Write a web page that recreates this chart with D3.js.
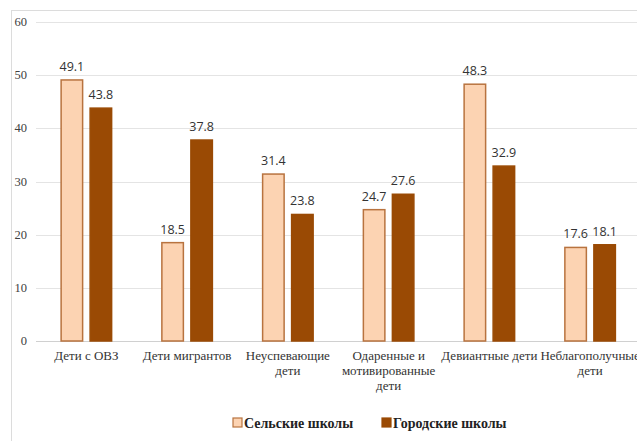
<!DOCTYPE html>
<html><head><meta charset="utf-8">
<script src="https://cdn.jsdelivr.net/npm/d3@7"></script>
<style>body{margin:0;background:#fff}svg{display:block}</style>
</head><body>
<svg id="c" width="637" height="441"></svg>
<script>
const categories = ["Дети с ОВЗ","Дети мигрантов","Неуспевающие дети","Одаренные и мотивированные дети","Девиантные дети","Неблагополучные дети"];
const categoryLines = [["Дети с ОВЗ"],["Дети мигрантов"],["Неуспевающие","дети"],["Одаренные и","мотивированные","дети"],["Девиантные дети"],["Неблагополучные","дети"]];
const seriesNames = ["Сельские школы","Городские школы"];
const rural = [49.1,18.5,31.4,24.7,48.3,17.6];
const urban = [43.8,37.8,23.8,27.6,32.9,18.1];
const yTicks = [0,10,20,30,40,50,60];

const SERIF = "Liberation Serif";
const SANS = "Open Sans";
const svg = d3.select("#c");
svg.append("line").attr("x1",11.5).attr("x2",11.5).attr("y1",10).attr("y2",441).attr("stroke","#dcdcdc");
svg.append("line").attr("x1",11).attr("x2",637).attr("y1",10.5).attr("y2",10.5).attr("stroke","#dcdcdc");

const x = d3.scaleBand().domain(categories).range([36,640.5]).paddingInner(0).paddingOuter(0);
const y = d3.scaleLinear().domain([0,60]).range([341,22]);
const xs = d3.scaleBand().domain(seriesNames).range([0,x.bandwidth()]).paddingInner(0.207).paddingOuter(0.84);

svg.append("g").selectAll("line").data(yTicks).join("line")
  .attr("x1",36).attr("x2",637).attr("y1",d=>Math.round(y(d))+0.5).attr("y2",d=>Math.round(y(d))+0.5)
  .attr("stroke",d=>d===0?"#d0d0d0":"#e4e4e4");
svg.append("g").selectAll("text").data(yTicks).join("text").attr("font-family",SERIF)
  .attr("x",27).attr("y",d=>y(d)+4).attr("text-anchor","end")
  .attr("font-size",12.5).attr("fill","#404040").text(d=>d);

const colors = {"Сельские школы":{fill:"#fcd3b2",stroke:"#b8733f"},"Городские школы":{fill:"#9a4a04",stroke:"#9a4a04"}};
const data = [];
categories.forEach((c,i)=>{ data.push({c,s:seriesNames[0],v:rural[i]}); data.push({c,s:seriesNames[1],v:urban[i]}); });

svg.append("g").selectAll("rect").data(data).join("rect")
  .attr("x",d=>x(d.c)+xs(d.s)+0.75).attr("width",xs.bandwidth()-1.5)
  .attr("y",d=>y(d.v)).attr("height",d=>y(0)-y(d.v))
  .attr("fill",d=>colors[d.s].fill).attr("stroke",d=>colors[d.s].stroke).attr("stroke-width",1.5);

svg.append("g").selectAll("text").data(data).join("text").attr("font-family",SANS)
  .attr("x",d=>x(d.c)+xs(d.s)+xs.bandwidth()/2).attr("y",d=>y(d.v)-9)
  .attr("text-anchor","middle").attr("font-size",12.5).attr("fill","#333")
  .text(d=>d.v.toFixed(1));

const xl = svg.append("g");
categories.forEach((c,i)=>{
  const t = xl.append("text").attr("font-family",SERIF).attr("x",x(c)+x.bandwidth()/2).attr("y",360).attr("text-anchor","middle")
    .attr("font-size",13).attr("fill","#333");
  categoryLines[i].forEach((ln,j)=>t.append("tspan").attr("x",x(c)+x.bandwidth()/2).attr("dy",j===0?0:15).text(ln));
});

const lg = svg.append("g");
const legX = [233,382];
seriesNames.forEach((s,i)=>{
  lg.append("rect").attr("x",legX[i]).attr("y",418).attr("width",9).attr("height",9)
    .attr("fill",colors[s].fill).attr("stroke",colors[s].stroke).attr("stroke-width",1.2);
  lg.append("text").attr("font-family",SERIF).attr("x",legX[i]+11).attr("y",428).attr("font-weight","bold")
    .attr("font-size",14).attr("fill","#222").text(s);
});
</script>
</body></html>
